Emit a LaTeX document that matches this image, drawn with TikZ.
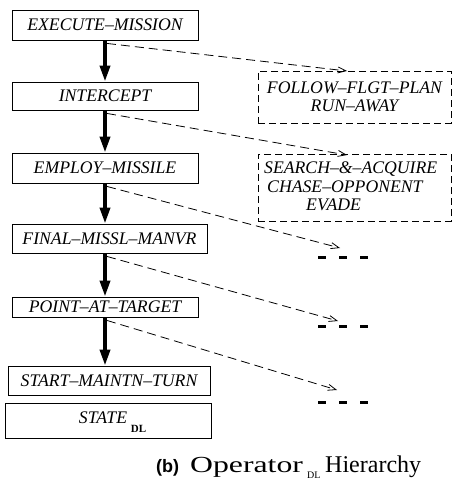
\documentclass[tikz,border=0pt]{standalone}
\usepackage{fontspec}
\setmainfont{Liberation Serif}
\setsansfont{Liberation Sans}
\usetikzlibrary{arrows.meta}
\begin{document}
\begin{tikzpicture}[x=1pt,y=-1pt,
  opbox/.style={draw, line width=0.9pt, inner sep=0pt, font=\fontsize{17.7}{19}\selectfont\itshape},
  altbox/.style={draw, line width=0.9pt, dash pattern=on 7pt off 4pt, inner sep=0pt, font=\fontsize{17.7}{18.5}\selectfont\itshape, align=center},
  down/.style={line width=3.6pt, -{Triangle[length=16pt,width=10pt]}},
  subgoal/.style={line width=0.8pt, dash pattern=on 9pt off 5pt, -{Straight Barb[length=8pt,width=6pt]}},
  pending/.style={line width=3pt, dash pattern=on 8pt off 13pt}
]
\useasboundingbox (0,0) rectangle (456,481);

\node[opbox, minimum width=186pt, minimum height=30pt] (em) at (105,25) {EXECUTE--MISSION};
\node[opbox, minimum width=186pt, minimum height=28pt] (ic) at (105,96) {INTERCEPT};
\node[opbox, minimum width=186pt, minimum height=30pt] (ep) at (105,168) {EMPLOY--MISSILE};
\node[opbox, minimum width=195pt, minimum height=29pt] (fm) at (109.5,238.5) {FINAL--MISSL--MANVR};
\node[opbox, minimum width=186pt, minimum height=20pt] (pt) at (105,307) {POINT--AT--TARGET};
\node[opbox, minimum width=202pt, minimum height=29pt] (st) at (109,380.5) {START--MAINTN--TURN};
\node[opbox, minimum width=206pt, minimum height=35pt] (sd) at (108,421) {};
\node[font=\fontsize{17.7}{19}\selectfont\itshape, inner sep=0pt] (sdt) at (103,418) {STATE};
\node[font=\fontsize{11}{12}\selectfont\bfseries, inner sep=0pt] (sds) at (138.5,428.5) {DL};

\node[altbox, minimum width=193pt, minimum height=52pt] (a1) at (354.5,97) {FOLLOW--FLGT--PLAN\\RUN--AWAY};
\node[altbox, minimum width=193pt, minimum height=67pt] (a2) at (354.5,187.5) {};
\node[font=\fontsize{17.7}{18.5}\selectfont\itshape, align=left, inner sep=0pt, anchor=north west] (a2t) at (264,162)
  {SEARCH--\&--ACQUIRE\\\hspace*{3pt}CHASE--OPPONENT\\\hspace*{42pt}EVADE};

\coordinate (t3) at (340,248);
\coordinate (t4) at (338,321);
\coordinate (t5) at (337,390);
\coordinate (d3) at (343,257);
\coordinate (d4) at (343,326);
\coordinate (d5) at (343,402);

\draw[down] (em.south -| 105,0) -- (ic.north -| 105,0);
\draw[down] (ic.south -| 105,0) -- (ep.north -| 105,0);
\draw[down] (ep.south -| 105,0) -- (fm.north -| 105,0);
\draw[down] (fm.south -| 105,0) -- (pt.north -| 105,0);
\draw[down] (pt.south -| 105,0) -- (st.north -| 105,0);

\draw[subgoal] ([xshift=2pt,yshift=-3pt]em.south) -- (347,71);
\draw[subgoal] ([xshift=2pt,yshift=-3pt]ic.south) -- (347,155);
\draw[subgoal] ([xshift=2pt,yshift=-3pt]ep.south) -- (t3);
\draw[subgoal] ([xshift=-2.5pt,yshift=-3pt]fm.south) -- (t4);
\draw[subgoal] ([xshift=2pt,yshift=-3pt]pt.south) -- (t5);

\draw[pending] ([xshift=-25pt]d3) -- ([xshift=25pt]d3);
\draw[pending] ([xshift=-25pt]d4) -- ([xshift=25pt]d4);
\draw[pending] ([xshift=-25pt]d5) -- ([xshift=25pt]d5);

\node[font=\sffamily\bfseries\fontsize{18}{20}\selectfont, inner sep=0pt, anchor=base west] (cb) at (156,472) {(b)};
\node[font=\fontsize{23}{26}\selectfont, inner sep=0pt, anchor=base west] (co) at (190,472) {\scalebox{1.38}[1]{Operator}};
\node[font=\fontsize{10}{11}\selectfont, inner sep=0pt, anchor=base west] (cs) at (307,478.5) {DL};
\node[font=\fontsize{24}{26}\selectfont, inner sep=0pt, anchor=base west] (ch) at (325,472) {Hierarchy};
\end{tikzpicture}
\end{document}
